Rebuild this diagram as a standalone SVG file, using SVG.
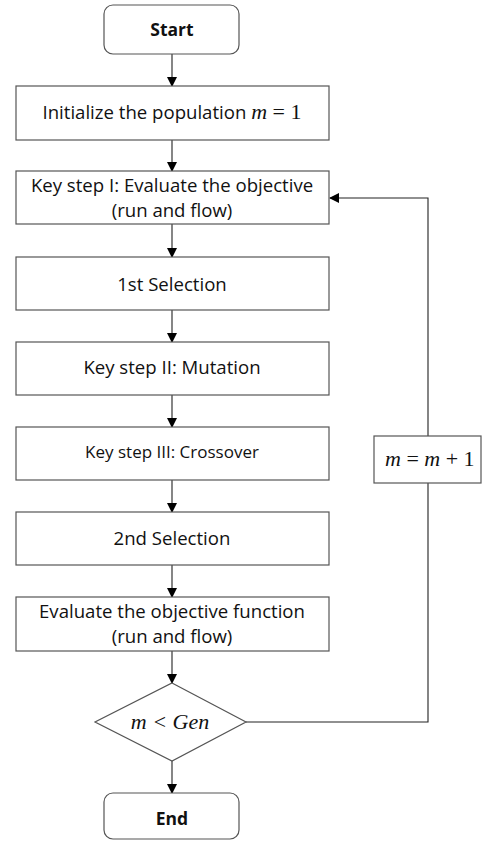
<svg xmlns="http://www.w3.org/2000/svg" width="482" height="842" viewBox="0 0 482 842">
<style>
.box{fill:#fff;stroke:#555;stroke-width:1.2}
.t{font-family:"Open Sans","Noto Sans",sans-serif;font-size:18.6px;fill:#111;text-anchor:middle}
.ts{font-size:17px}
.b{font-weight:bold;font-size:17.5px}
.m{font-family:"Liberation Serif",serif;font-size:22px;fill:#111}
.i{font-style:italic}
.c{fill:none;stroke:#222;stroke-width:1.1}
</style>
<defs>
<marker id="ah" markerWidth="10" markerHeight="10" refX="9" refY="5" orient="auto" markerUnits="userSpaceOnUse">
<path d="M0,0 L10,5 L0,10 Z" fill="#000"/>
</marker>
</defs>
<rect width="482" height="842" fill="#fff"/>
<g id="connectors">
<line class="c" x1="172" y1="54" x2="172" y2="86" marker-end="url(#ah)"/>
<line class="c" x1="172" y1="140" x2="172" y2="171" marker-end="url(#ah)"/>
<line class="c" x1="172" y1="224" x2="172" y2="257" marker-end="url(#ah)"/>
<line class="c" x1="172" y1="310" x2="172" y2="342" marker-end="url(#ah)"/>
<line class="c" x1="172" y1="395" x2="172" y2="427" marker-end="url(#ah)"/>
<line class="c" x1="172" y1="480" x2="172" y2="512" marker-end="url(#ah)"/>
<line class="c" x1="172" y1="565" x2="172" y2="597" marker-end="url(#ah)"/>
<line class="c" x1="172" y1="651" x2="172" y2="683" marker-end="url(#ah)"/>
<line class="c" x1="172" y1="761" x2="172" y2="793" marker-end="url(#ah)"/>
<polyline class="c" points="246,722 428,722 428,198 330,198" marker-end="url(#ah)"/>
</g>
<g id="start">
<rect class="box" x="104" y="5" width="135" height="49" rx="9"/>
<text class="t b" x="172" y="36">Start</text>
</g>
<g id="init">
<rect class="box" x="16" y="86" width="313" height="54"/>
<text class="t" x="172" y="119">Initialize the population <tspan class="m i">m</tspan><tspan class="m"> = 1</tspan></text>
</g>
<g id="eval1">
<rect class="box" x="16" y="171" width="313" height="53"/>
<text class="t" x="172" y="192">Key step I: Evaluate the objective</text>
<text class="t" x="172" y="217">(run and flow)</text>
</g>
<g id="sel1">
<rect class="box" x="16" y="257" width="313" height="53"/>
<text class="t" x="172" y="291">1st Selection</text>
</g>
<g id="mutation">
<rect class="box" x="16" y="342" width="313" height="53"/>
<text class="t" x="172" y="374">Key step II: Mutation</text>
</g>
<g id="crossover">
<rect class="box" x="16" y="427" width="313" height="53"/>
<text class="t ts" x="172" y="458">Key step III: Crossover</text>
</g>
<g id="sel2">
<rect class="box" x="16" y="512" width="313" height="53"/>
<text class="t" x="172" y="545">2nd Selection</text>
</g>
<g id="eval2">
<rect class="box" x="16" y="597" width="313" height="54"/>
<text class="t" x="172" y="618">Evaluate the objective function</text>
<text class="t" x="172" y="643">(run and flow)</text>
</g>
<g id="decision">
<polygon class="box" points="172,683 246,722 172,761 95,722"/>
<text class="m i" x="170" y="729" text-anchor="middle">m &lt; Gen</text>
</g>
<g id="increment">
<rect class="box" x="374" y="436" width="107" height="47"/>
<text class="m" x="385" y="466"><tspan class="i">m</tspan> = <tspan class="i">m</tspan> + 1</text>
</g>
<g id="end">
<rect class="box" x="104" y="793" width="135" height="46" rx="9"/>
<text class="t b" x="172" y="825">End</text>
</g>
</svg>
